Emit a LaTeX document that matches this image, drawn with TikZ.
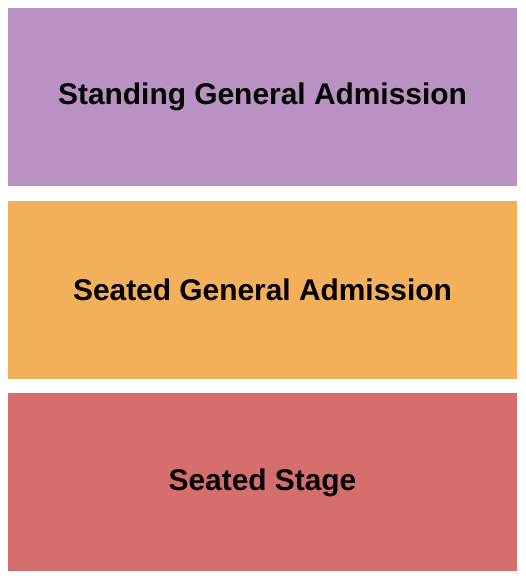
\documentclass[tikz,border=0pt]{standalone}
\usepackage{xcolor}
\usepackage{fontspec}
\setmainfont{Liberation Sans}
\usepackage{tikz}
\usetikzlibrary{positioning}

\definecolor{standingpurple}{RGB}{185,145,195}
\definecolor{seatedorange}{RGB}{243,175,90}
\definecolor{stagered}{RGB}{215,110,110}

\tikzset{
    section/.style={rectangle, inner sep=0pt, minimum width=509pt, minimum height=178pt,
        font=\fontsize{29.9}{34}\selectfont\bfseries, text=black}
}

\begin{document}
\begin{tikzpicture}[x=1pt, y=1pt]
    \useasboundingbox (0,0) rectangle (525,580);
    
    % Sections
    \node[section, fill=standingpurple] (standing) at (262.5,483) {Standing General Admission};
    \node[section, fill=seatedorange] (seated) at (262.5,290) {Seated General Admission};
    \node[section, fill=stagered] (stage) at (262.5,97.5) {Seated Stage};
\end{tikzpicture}
\end{document}
